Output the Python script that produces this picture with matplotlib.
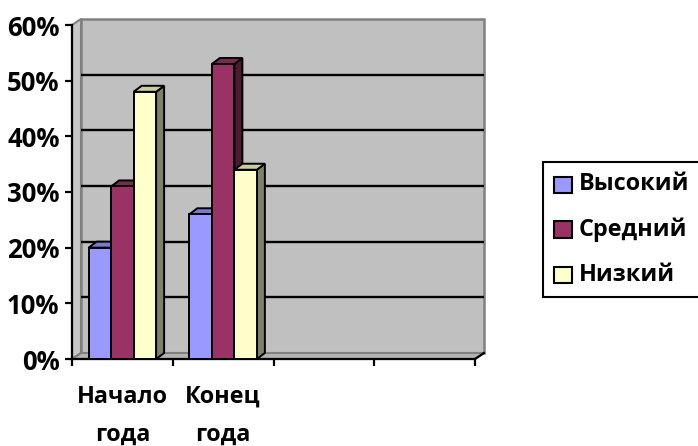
import matplotlib
matplotlib.use("Agg")
import matplotlib.pyplot as plt
from matplotlib.patches import Polygon, Rectangle

# ---- data ----
categories = ["Начало\nгода", "Конец\nгода", "", ""]
series_names = ["Высокий", "Средний", "Низкий"]
vysokiy = [20, 26]
sredniy = [31, 53]
nizkiy = [48, 34]
y_ticks = [0, 10, 20, 30, 40, 50, 60]
y_tick_labels = ["0%", "10%", "20%", "30%", "40%", "50%", "60%"]

front_colors = ["#9999FF", "#993366", "#FFFFCC"]
top_colors = ["#7A7ACC", "#7A2952", "#CCCCA3"]
side_colors = ["#4D4D80", "#4D1A33", "#808066"]

FONT = "Open Sans"
plt.rcParams['font.family'] = [FONT, 'DejaVu Sans']

W, H = 698, 446
fig = plt.figure(figsize=(W / 100, H / 100), dpi=100)

# axes placement in pixels
L, R, B, T = 72, 475, 359, 25
ax = fig.add_axes([L / W, (H - B) / H, (R - L) / W, (B - T) / H])
ncat = len(categories)
ymax = 60
ax.set_xlim(0, ncat)
ax.set_ylim(0, ymax)
ax.set_facecolor("none")
for s in ["top", "right"]:
    ax.spines[s].set_visible(False)
ax.spines["left"].set_linewidth(1.6)
ax.spines["bottom"].set_linewidth(1.6)

px_x = ncat / (R - L)
px_y = ymax / (B - T)

# wall offsets
wdx, wdy = 9 * px_x, 6 * px_y
bdx, bdy = 8 * px_x, 6 * px_y
edge_gray = "#808080"

# back wall
ax.add_patch(Polygon([(wdx, wdy), (ncat + wdx, wdy), (ncat + wdx, ymax + wdy), (wdx, ymax + wdy)],
                     closed=True, facecolor="#C0C0C0", edgecolor=edge_gray, lw=1.8, clip_on=False, zorder=1))
# left wall
ax.add_patch(Polygon([(0, 0), (wdx, wdy), (wdx, ymax + wdy), (0, ymax)],
                     closed=True, facecolor="#C8C8C8", edgecolor=edge_gray, lw=1.5, clip_on=False, zorder=1.5))
# floor
ax.add_patch(Polygon([(0, 0), (ncat, 0), (ncat + wdx, wdy), (wdx, wdy)],
                     closed=True, facecolor="#B4B4B4", edgecolor=edge_gray, lw=1.5, clip_on=False, zorder=1.5))
# gridlines on back wall
for yv in y_ticks[1:-1]:
    ax.plot([wdx, ncat + wdx], [yv + wdy, yv + wdy], color="black", lw=1.7, zorder=2,
            solid_capstyle="butt", clip_on=False)

# bars
bar_w = 22.5 * px_x
series = [vysokiy, sredniy, nizkiy]
for ci in range(len(vysokiy)):
    center = ci + 0.5
    start = center - 1.5 * bar_w
    for si, vals in enumerate(series):
        v = vals[ci]
        x0 = start + si * bar_w
        x1 = x0 + bar_w
        z = 3 + si * 0.1
        ax.add_patch(Polygon([(x1, 0), (x1 + bdx, bdy), (x1 + bdx, v + bdy), (x1, v)], closed=True,
                             facecolor=side_colors[si], edgecolor="black", lw=1.4, clip_on=False,
                             zorder=z, joinstyle="miter"))
        ax.add_patch(Polygon([(x0, v), (x1, v), (x1 + bdx, v + bdy), (x0 + bdx, v + bdy)], closed=True,
                             facecolor=top_colors[si], edgecolor="black", lw=1.4, clip_on=False,
                             zorder=z, joinstyle="miter"))
        ax.add_patch(Rectangle((x0, 0), bar_w, v, facecolor=front_colors[si], edgecolor="black",
                               lw=1.4, clip_on=False, zorder=z + 0.05, joinstyle="miter"))

# right floor corner
ax.plot([ncat, ncat + wdx], [0, wdy], color="black", lw=1.6, clip_on=False, zorder=2)

# axes ticks
ax.set_yticks(y_ticks)
ax.set_yticklabels(y_tick_labels, fontsize=18.5, fontweight="bold", family=FONT)
ax.set_xticks(range(ncat + 1))
ax.set_xticklabels([])
ax.tick_params(axis="y", direction="out", length=5, width=1.6, pad=4)
ax.tick_params(axis="x", direction="out", length=5, width=1.6)

# category labels (two lines each)
for ci, lab in enumerate(categories):
    if not lab:
        continue
    lines = lab.split("\n")
    for li, ln in enumerate(lines):
        base_px = 403 + li * 38
        ax.text(ci + 0.5, (B - base_px) * px_y, ln, ha="center", va="baseline",
                fontsize=16.8, fontweight="bold", family=FONT, clip_on=False)

# legend (manual, in figure pixel coords)
fig.patches.append(Rectangle((543 / W, (H - 297) / H), (702 - 543) / W, (297 - 162) / H,
                             transform=fig.transFigure, facecolor="white", edgecolor="black", lw=1.5))
centers = [184.5, 229.5, 275]
for si, name in enumerate(series_names):
    cy = centers[si]
    fig.patches.append(Rectangle((554 / W, (H - cy - 8) / H), 18 / W, 16 / H, transform=fig.transFigure,
                                 facecolor=front_colors[si], edgecolor="black", lw=1.5))
    fig.text(579 / W, (H - cy) / H, name, ha="left", va="center", fontsize=16.8,
             fontweight="bold", family=FONT)

fig.savefig("out.png", dpi=100)
